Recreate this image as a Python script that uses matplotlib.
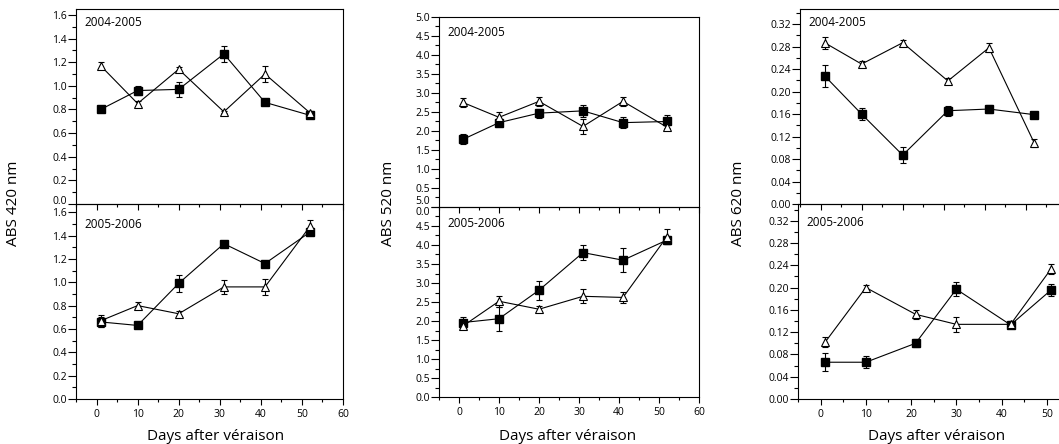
import matplotlib
matplotlib.use("Agg")
import matplotlib.pyplot as plt
from matplotlib.ticker import MultipleLocator
import numpy as np

plt.rcParams['font.family'] = ['Open Sans', 'DejaVu Sans']

# ---------------- data ----------------
days = [1, 10, 20, 31, 41, 52]
days_620_b = [1, 10, 21, 30, 42, 51]

# ABS 420 nm
a420_0405_tri = [1.17, 0.85, 1.14, 0.78, 1.10, 0.77]
a420_0405_tri_err = [0.03, 0.02, 0.02, 0.01, 0.065, 0.02]
a420_0405_sq = [0.80, 0.96, 0.97, 1.27, 0.86, 0.75]
a420_0405_sq_err = [0.02, 0.04, 0.065, 0.07, 0.02, 0.02]
a420_0506_tri = [0.67, 0.80, 0.73, 0.96, 0.96, 1.48]
a420_0506_tri_err = [0.05, 0.03, 0.02, 0.06, 0.07, 0.05]
a420_0506_sq = [0.66, 0.63, 0.99, 1.33, 1.16, 1.43]
a420_0506_sq_err = [0.04, 0.02, 0.07, 0.02, 0.02, 0.02]

# ABS 520 nm
a520_0405_tri = [2.75, 2.36, 2.78, 2.12, 2.78, 2.10]
a520_0405_tri_err = [0.12, 0.13, 0.11, 0.19, 0.11, 0.07]
a520_0405_sq = [1.78, 2.22, 2.47, 2.53, 2.22, 2.25]
a520_0405_sq_err = [0.13, 0.05, 0.12, 0.15, 0.15, 0.18]
a520_0506_tri = [1.87, 2.52, 2.31, 2.65, 2.62, 4.22]
a520_0506_tri_err = [0.05, 0.15, 0.08, 0.18, 0.15, 0.2]
a520_0506_sq = [1.96, 2.06, 2.81, 3.80, 3.60, 4.13]
a520_0506_sq_err = [0.15, 0.32, 0.25, 0.2, 0.32, 0.1]

# ABS 620 nm
a620_0405_tri = [0.287, 0.249, 0.287, 0.219, 0.278, 0.109]
a620_0405_tri_err = [0.011, 0.005, 0.004, 0.006, 0.008, 0.007]
a620_0405_sq = [0.228, 0.160, 0.087, 0.166, 0.169, 0.159]
a620_0405_sq_err = [0.02, 0.01, 0.014, 0.009, 0.007, 0.004]
a620_0506_tri = [0.102, 0.200, 0.152, 0.134, 0.134, 0.234]
a620_0506_tri_err = [0.009, 0.004, 0.008, 0.014, 0.006, 0.009]
a620_0506_sq = [0.066, 0.066, 0.100, 0.197, 0.133, 0.196]
a620_0506_sq_err = [0.016, 0.011, 0.007, 0.013, 0.005, 0.011]

season_labels = ['2004-2005', '2005-2006']
ylabels = ['ABS 420 nm', 'ABS 520 nm', 'ABS 620 nm']
xlabel = 'Days after véraison'

yt420_top = ['0.0', '0.2', '0.4', '0.6', '0.8', '1.0', '1.2', '1.4', '1.6']
yt420_bot = ['0.0', '0.2', '0.4', '0.6', '0.8', '1.0', '1.2', '1.4', '1.6']
yt520_top = ['5.0', '0.5', '1.0', '1.5', '2.0', '2.5', '3.0', '3.5', '4.0', '4.5', '5.0']
yt520_bot = ['0.0', '0.5', '1.0', '1.5', '2.0', '2.5', '3.0', '3.5', '4.0', '4.5', '0.0']
yt620 = ['0.00', '0.04', '0.08', '0.12', '0.16', '0.20', '0.24', '0.28', '0.32']
xticks = [0, 10, 20, 30, 40, 50, 60]
xticklabels = ['0', '10', '20', '30', '40', '50', '60']
xticklabels_620 = ['0', '10', '20', '30', '40', '50', '']

# ---------------- figure ----------------
W, H = 1059, 444
fig = plt.figure(figsize=(W / 100, H / 100), dpi=100)


def add_ax(left, right, top, bottom):
    return fig.add_axes([left / W, (H - bottom) / H, (right - left) / W, (bottom - top) / H])


def style(ax, ymax, ymajor, yminor, ylabels_list, xlabels_list):
    ax.set_xlim(-5, 60)
    ax.set_xticks(xticks)
    ax.xaxis.set_minor_locator(MultipleLocator(5))
    ticks = np.round(np.arange(len(ylabels_list)) * ymajor, 5)
    ax.set_yticks(ticks)
    ax.set_yticklabels(ylabels_list)
    ax.yaxis.set_minor_locator(MultipleLocator(yminor))
    ax.set_ylim(0, ymax)
    ax.tick_params(axis='y', which='major', direction='out', length=5.5, width=0.8, pad=1, labelsize=7.5)
    ax.tick_params(axis='y', which='minor', direction='out', length=3, width=0.8)
    ax.tick_params(axis='x', which='major', direction='out', length=4, width=0.8, pad=3.5, labelsize=7.5)
    ax.tick_params(axis='x', which='minor', direction='out', length=2.5, width=0.8)
    if xlabels_list is not None:
        ax.set_xticklabels(xlabels_list)
    else:
        ax.set_xticklabels([])
    for s in ax.spines.values():
        s.set_linewidth(0.8)
        s.set_color('black')
    ax.patch.set_alpha(0)


def draw(ax, x, tri, tri_err, sq, sq_err):
    ax.errorbar(x, sq, yerr=sq_err, fmt='-s', color='black', ms=5.6, mfc='black', mec='black',
                lw=0.8, elinewidth=0.8, capsize=2.5, capthick=0.8, zorder=3)
    ax.errorbar(x, tri, yerr=tri_err, fmt='-^', color='black', ms=5.6, mfc='white', mec='black',
                mew=0.8, lw=0.8, elinewidth=0.8, capsize=2.5, capthick=0.8, zorder=4)


def season(ax, text, dy):
    ax.annotate(text, xy=(0, 1), xycoords='axes fraction', xytext=(8, -dy),
                textcoords='offset pixels', ha='left', va='center', fontsize=8.5)


# Panel 1 (420 nm)
ax1t = add_ax(76, 343, 9, 204)
ax1b = add_ax(76, 343, 204, 399)
draw(ax1t, days, a420_0405_tri, a420_0405_tri_err, a420_0405_sq, a420_0405_sq_err)
draw(ax1b, days, a420_0506_tri, a420_0506_tri_err, a420_0506_sq, a420_0506_sq_err)
style(ax1t, 1.65, 0.2, 0.1, yt420_top, None)
style(ax1b, 1.67, 0.2, 0.1, yt420_bot, xticklabels)
ax1t.get_yticklabels()[0].set_va('baseline')
season(ax1t, season_labels[0], 14)
season(ax1b, season_labels[1], 20)

# Panel 2 (520 nm)
ax2t = add_ax(439, 699, 17, 207)
ax2b = add_ax(439, 699, 207, 397)
draw(ax2t, days, a520_0405_tri, a520_0405_tri_err, a520_0405_sq, a520_0405_sq_err)
draw(ax2b, days, a520_0506_tri, a520_0506_tri_err, a520_0506_sq, a520_0506_sq_err)
style(ax2t, 5.0, 0.5, 0.25, yt520_top, None)
style(ax2b, 5.0, 0.5, 0.25, yt520_bot, xticklabels)
ax2t.get_yticklabels()[0].set_va('bottom')
ax2b.get_yticklabels()[-1].set_va('top')
season(ax2t, season_labels[0], 15)
season(ax2b, season_labels[1], 16)

# Panel 3 (620 nm)
ax3t = add_ax(800, 1067, 9, 204)
ax3b = add_ax(798, 1092, 204, 399)
draw(ax3t, days, a620_0405_tri, a620_0405_tri_err, a620_0405_sq, a620_0405_sq_err)
draw(ax3b, days_620_b, a620_0506_tri, a620_0506_tri_err, a620_0506_sq, a620_0506_sq_err)
style(ax3t, 0.347, 0.04, 0.02, yt620, None)
style(ax3b, 0.35, 0.04, 0.02, yt620, xticklabels_620)
season(ax3t, season_labels[0], 14)
season(ax3b, season_labels[1], 19)

# axis labels
for xc, lab in zip([14, 388, 739], ylabels):
    fig.text(xc / W, (H - 203) / H, lab, rotation=90, ha='center', va='center', fontsize=11)
for xc in [216, 568, 937]:
    fig.text(xc / W, (H - 436) / H, xlabel, ha='center', va='center', fontsize=11)

fig.savefig('out.png', dpi=100)
